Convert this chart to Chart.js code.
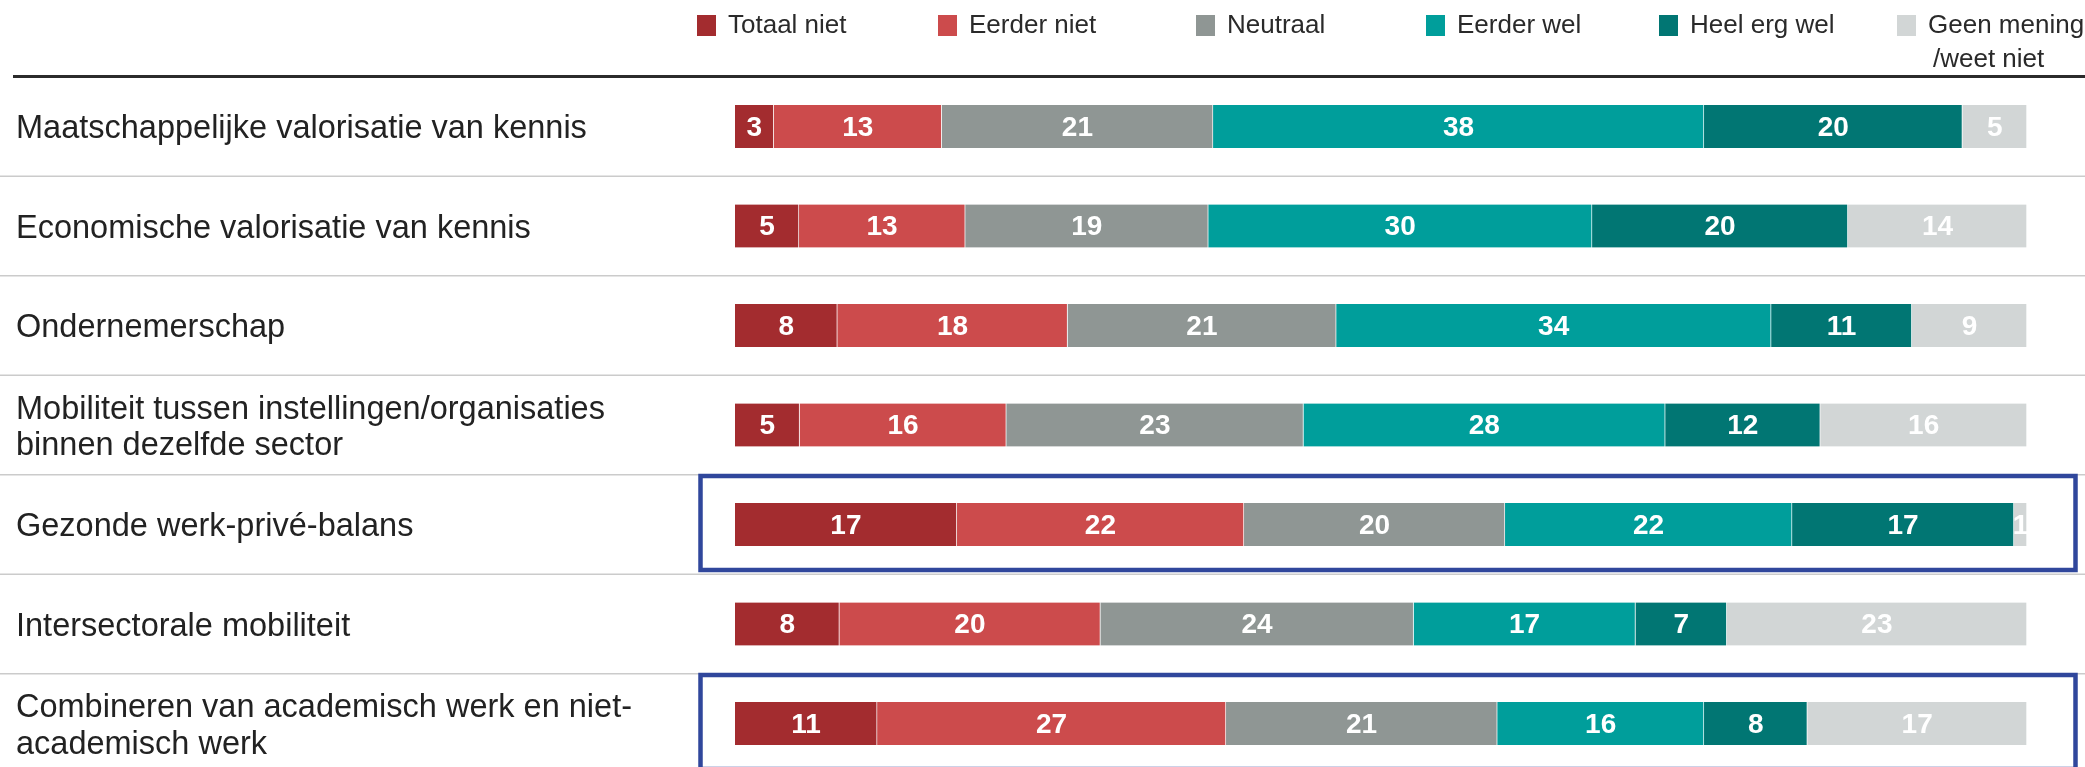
<!DOCTYPE html>
<html>
<head>
<meta charset="utf-8">
<script src="https://cdn.jsdelivr.net/npm/chart.js@4.4.1/dist/chart.umd.min.js"></script>
<style>
  html, body { margin: 0; padding: 0; background: #fff; }
  #wrap { width: 2085px; height: 767px; }
</style>
</head>
<body>
<div id="wrap"><canvas id="myChart" width="2085" height="767"></canvas></div>
<script>
const categories = [
  'Maatschappelijke valorisatie van kennis',
  'Economische valorisatie van kennis',
  'Ondernemerschap',
  ['Mobiliteit tussen instellingen/organisaties', 'binnen dezelfde sector'],
  'Gezonde werk-privé-balans',
  'Intersectorale mobiliteit',
  ['Combineren van academisch werk en niet-', 'academisch werk']
];

const seriesNames = ['Totaal niet', 'Eerder niet', 'Neutraal', 'Eerder wel', 'Heel erg wel', 'Geen mening'];
const totaalNiet = [3, 5, 8, 5, 17, 8, 11];
const eerderNiet = [13, 13, 18, 16, 22, 20, 27];
const neutraal   = [21, 19, 21, 23, 20, 24, 21];
const eerderWel  = [38, 30, 34, 28, 22, 17, 16];
const heelErgWel = [20, 20, 11, 12, 17, 7, 8];
const geenMening = [5, 14, 9, 16, 1, 23, 17];

const colors = ['#a32c2f', '#cc4b4c', '#8f9694', '#009e9b', '#017673', '#d2d6d6'];
const highlighted = [4, 6];

// percentages are rounded, so every row is scaled to its own total (all bars end at the same x)
const series = [totaalNiet, eerderNiet, neutraal, eerderWel, heelErgWel, geenMening];
const rowTotals = categories.map((c, i) => series.reduce((s, arr) => s + arr[i], 0));

const datasets = series.map((arr, k) => ({
  label: seriesNames[k],
  data: arr.map((v, i) => v / rowTotals[i] * 100),
  raw: arr,
  backgroundColor: colors[k],
  borderColor: 'rgba(255,255,255,0.35)',
  borderWidth: { left: 0, right: 1, top: 0, bottom: 0 },
  borderSkipped: false,
  barThickness: 43,
  clip: false
}));

const decorPlugin = {
  id: 'decor',
  beforeDatasetsDraw(chart) {
    const ctx = chart.ctx;
    const y = chart.scales.y;
    ctx.save();
    // row separators
    ctx.strokeStyle = '#cbcbcb';
    ctx.lineWidth = 1.5;
    for (let i = 1; i < categories.length; i++) {
      const py = (y.getPixelForValue(i - 1) + y.getPixelForValue(i)) / 2;
      ctx.beginPath();
      ctx.moveTo(0, py);
      ctx.lineTo(chart.width, py);
      ctx.stroke();
    }
    // top rule
    ctx.strokeStyle = '#2b2b2b';
    ctx.lineWidth = 3;
    ctx.beginPath();
    ctx.moveTo(13, 76.5);
    ctx.lineTo(chart.width, 76.5);
    ctx.stroke();

    // category labels
    ctx.fillStyle = '#222';
    ctx.textAlign = 'left';
    ctx.textBaseline = 'middle';
    ctx.font = '32.5px "Liberation Sans", Arial, sans-serif';
    categories.forEach((lab, i) => {
      const lines = Array.isArray(lab) ? lab : [lab];
      const c = y.getPixelForValue(i) + 3;
      lines.forEach((ln, j) => {
        ctx.fillText(ln, 16, c + (j - (lines.length - 1) / 2) * 36.5);
      });
    });

    // legend
    const legendX = [697, 938, 1196, 1426, 1659, 1897];
    ctx.font = '26px "Liberation Sans", Arial, sans-serif';
    seriesNames.forEach((name, k) => {
      ctx.fillStyle = colors[k];
      ctx.fillRect(legendX[k], 15, 19, 21);
      ctx.fillStyle = '#2a2a2a';
      ctx.fillText(name, legendX[k] + 31, 26);
    });
    ctx.fillText('/weet niet', legendX[5] + 36, 60);
    ctx.restore();
  },
  afterDatasetsDraw(chart) {
    const ctx = chart.ctx;
    ctx.save();
    ctx.font = 'bold 28px "Liberation Sans Narrow", "Liberation Sans", Arial, sans-serif';
    ctx.fillStyle = '#ffffff';
    ctx.textAlign = 'center';
    ctx.textBaseline = 'middle';
    chart.data.datasets.forEach((ds, k) => {
      chart.getDatasetMeta(k).data.forEach((bar, i) => {
        ctx.fillText(String(ds.raw[i]), (bar.x + bar.base) / 2, bar.y + 1.5);
      });
    });
    // highlight boxes
    const y = chart.scales.y;
    ctx.strokeStyle = '#30479c';
    ctx.lineWidth = 4.5;
    highlighted.forEach(i => {
      const c = y.getPixelForValue(i);
      ctx.strokeRect(700.5, c - 48.5, 1375, 94);
    });
    ctx.restore();
  }
};

new Chart(document.getElementById('myChart'), {
  type: 'bar',
  data: { labels: categories, datasets: datasets },
  options: {
    indexAxis: 'y',
    responsive: false,
    animation: false,
    layout: { padding: { left: 735, right: 58, top: 126.5, bottom: 43.5 } },
    plugins: { legend: { display: false }, tooltip: { enabled: false } },
    scales: {
      x: { stacked: true, min: 0, max: 100, display: false },
      y: { stacked: true, offset: false, display: false }
    }
  },
  plugins: [decorPlugin]
});
</script>
</body>
</html>
